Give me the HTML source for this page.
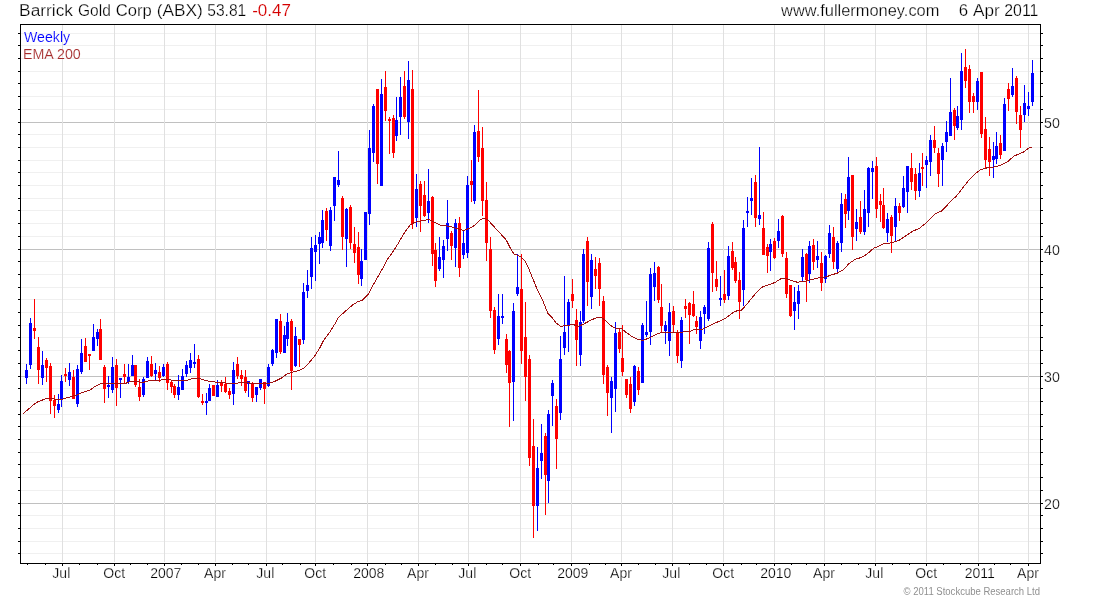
<!DOCTYPE html>
<html><head><meta charset="utf-8"><title>Barrick Gold Corp (ABX)</title>
<style>html,body{margin:0;padding:0;background:#fff}svg{display:block;will-change:transform}text{font-family:"Liberation Sans",Arial,sans-serif}</style></head><body>
<svg width="1100" height="600" viewBox="0 0 1100 600">
<rect width="1100" height="600" fill="#fff"/>
<g shape-rendering="crispEdges">
<rect x="21" y="553" width="1019" height="1" fill="#f0f0f0"/>
<rect x="21" y="541" width="1019" height="1" fill="#f0f0f0"/>
<rect x="21" y="528" width="1019" height="1" fill="#f0f0f0"/>
<rect x="21" y="515" width="1019" height="1" fill="#f0f0f0"/>
<rect x="21" y="503" width="1019" height="1" fill="#c0c0c0"/>
<rect x="21" y="490" width="1019" height="1" fill="#f0f0f0"/>
<rect x="21" y="477" width="1019" height="1" fill="#f0f0f0"/>
<rect x="21" y="464" width="1019" height="1" fill="#f0f0f0"/>
<rect x="21" y="452" width="1019" height="1" fill="#f0f0f0"/>
<rect x="21" y="439" width="1019" height="1" fill="#f0f0f0"/>
<rect x="21" y="426" width="1019" height="1" fill="#f0f0f0"/>
<rect x="21" y="414" width="1019" height="1" fill="#f0f0f0"/>
<rect x="21" y="401" width="1019" height="1" fill="#f0f0f0"/>
<rect x="21" y="388" width="1019" height="1" fill="#f0f0f0"/>
<rect x="21" y="376" width="1019" height="1" fill="#c0c0c0"/>
<rect x="21" y="363" width="1019" height="1" fill="#f0f0f0"/>
<rect x="21" y="350" width="1019" height="1" fill="#f0f0f0"/>
<rect x="21" y="337" width="1019" height="1" fill="#f0f0f0"/>
<rect x="21" y="325" width="1019" height="1" fill="#f0f0f0"/>
<rect x="21" y="312" width="1019" height="1" fill="#f0f0f0"/>
<rect x="21" y="299" width="1019" height="1" fill="#f0f0f0"/>
<rect x="21" y="287" width="1019" height="1" fill="#f0f0f0"/>
<rect x="21" y="274" width="1019" height="1" fill="#f0f0f0"/>
<rect x="21" y="261" width="1019" height="1" fill="#f0f0f0"/>
<rect x="21" y="249" width="1019" height="1" fill="#c0c0c0"/>
<rect x="21" y="236" width="1019" height="1" fill="#f0f0f0"/>
<rect x="21" y="223" width="1019" height="1" fill="#f0f0f0"/>
<rect x="21" y="210" width="1019" height="1" fill="#f0f0f0"/>
<rect x="21" y="198" width="1019" height="1" fill="#f0f0f0"/>
<rect x="21" y="185" width="1019" height="1" fill="#f0f0f0"/>
<rect x="21" y="172" width="1019" height="1" fill="#f0f0f0"/>
<rect x="21" y="160" width="1019" height="1" fill="#f0f0f0"/>
<rect x="21" y="147" width="1019" height="1" fill="#f0f0f0"/>
<rect x="21" y="134" width="1019" height="1" fill="#f0f0f0"/>
<rect x="21" y="122" width="1019" height="1" fill="#c0c0c0"/>
<rect x="21" y="109" width="1019" height="1" fill="#f0f0f0"/>
<rect x="21" y="96" width="1019" height="1" fill="#f0f0f0"/>
<rect x="21" y="83" width="1019" height="1" fill="#f0f0f0"/>
<rect x="21" y="71" width="1019" height="1" fill="#f0f0f0"/>
<rect x="21" y="58" width="1019" height="1" fill="#f0f0f0"/>
<rect x="21" y="45" width="1019" height="1" fill="#f0f0f0"/>
<rect x="21" y="33" width="1019" height="1" fill="#f0f0f0"/>
<rect x="62" y="25" width="1" height="537" fill="#e0e0e0"/>
<rect x="114" y="25" width="1" height="537" fill="#e0e0e0"/>
<rect x="164" y="25" width="1" height="537" fill="#e0e0e0"/>
<rect x="215" y="25" width="1" height="537" fill="#e0e0e0"/>
<rect x="266" y="25" width="1" height="537" fill="#e0e0e0"/>
<rect x="315" y="25" width="1" height="537" fill="#e0e0e0"/>
<rect x="367" y="25" width="1" height="537" fill="#e0e0e0"/>
<rect x="418" y="25" width="1" height="537" fill="#e0e0e0"/>
<rect x="468" y="25" width="1" height="537" fill="#e0e0e0"/>
<rect x="520" y="25" width="1" height="537" fill="#e0e0e0"/>
<rect x="571" y="25" width="1" height="537" fill="#e0e0e0"/>
<rect x="621" y="25" width="1" height="537" fill="#e0e0e0"/>
<rect x="672" y="25" width="1" height="537" fill="#e0e0e0"/>
<rect x="723" y="25" width="1" height="537" fill="#e0e0e0"/>
<rect x="774" y="25" width="1" height="537" fill="#e0e0e0"/>
<rect x="824" y="25" width="1" height="537" fill="#e0e0e0"/>
<rect x="875" y="25" width="1" height="537" fill="#e0e0e0"/>
<rect x="926" y="25" width="1" height="537" fill="#e0e0e0"/>
<rect x="978" y="25" width="1" height="537" fill="#e0e0e0"/>
<rect x="1028" y="25" width="1" height="537" fill="#e0e0e0"/>
</g>
<g shape-rendering="crispEdges">
<path fill="#0000ff" d="M26 364h1v20h-1zM25 370h3v8h-3z"/>
<path fill="#0000ff" d="M30 318h1v51h-1zM29 323h3v42h-3z"/>
<path fill="#ff0000" d="M34 299h1v40h-1zM33 328h3v3h-3z"/>
<path fill="#ff0000" d="M38 337h1v47h-1zM37 347h3v23h-3z"/>
<path fill="#0000ff" d="M42 351h1v34h-1zM41 365h3v13h-3z"/>
<path fill="#ff0000" d="M46 358h1v24h-1zM45 360h3v8h-3z"/>
<path fill="#ff0000" d="M50 363h1v51h-1zM49 366h3v35h-3z"/>
<path fill="#ff0000" d="M54 395h1v23h-1zM53 400h3v6h-3z"/>
<path fill="#0000ff" d="M58 394h1v19h-1zM57 404h3v6h-3z"/>
<path fill="#0000ff" d="M61 375h1v32h-1zM60 381h3v19h-3z"/>
<path fill="#ff0000" d="M65 368h1v14h-1zM64 374h3v2h-3z"/>
<path fill="#0000ff" d="M69 363h1v23h-1zM68 372h3v8h-3z"/>
<path fill="#ff0000" d="M73 370h1v29h-1zM72 377h3v22h-3z"/>
<path fill="#0000ff" d="M77 365h1v42h-1zM76 369h3v35h-3z"/>
<path fill="#0000ff" d="M81 339h1v35h-1zM80 353h3v19h-3z"/>
<path fill="#ff0000" d="M85 338h1v24h-1zM84 346h3v16h-3z"/>
<path fill="#ff0000" d="M89 354h1v16h-1zM88 354h3v2h-3z"/>
<path fill="#0000ff" d="M93 324h1v27h-1zM92 337h3v14h-3z"/>
<path fill="#0000ff" d="M97 329h1v17h-1zM96 332h3v7h-3z"/>
<path fill="#ff0000" d="M100 319h1v41h-1zM99 329h3v31h-3z"/>
<path fill="#ff0000" d="M104 365h1v38h-1zM103 367h3v22h-3z"/>
<path fill="#0000ff" d="M108 376h1v22h-1zM107 385h3v2h-3z"/>
<path fill="#0000ff" d="M112 357h1v36h-1zM111 367h3v23h-3z"/>
<path fill="#ff0000" d="M116 359h1v47h-1zM115 365h3v23h-3z"/>
<path fill="#0000ff" d="M120 378h1v20h-1zM119 378h3v2h-3z"/>
<path fill="#ff0000" d="M124 364h1v19h-1zM123 374h3v3h-3z"/>
<path fill="#0000ff" d="M128 364h1v20h-1zM127 377h3v5h-3z"/>
<path fill="#0000ff" d="M132 355h1v21h-1zM131 365h3v11h-3z"/>
<path fill="#ff0000" d="M135 365h1v22h-1zM134 365h3v20h-3z"/>
<path fill="#ff0000" d="M139 379h1v22h-1zM138 387h3v10h-3z"/>
<path fill="#0000ff" d="M143 377h1v20h-1zM142 379h3v16h-3z"/>
<path fill="#0000ff" d="M147 357h1v21h-1zM146 361h3v17h-3z"/>
<path fill="#ff0000" d="M151 356h1v21h-1zM150 364h3v12h-3z"/>
<path fill="#0000ff" d="M155 363h1v17h-1zM154 370h3v4h-3z"/>
<path fill="#ff0000" d="M159 366h1v16h-1zM158 372h3v6h-3z"/>
<path fill="#0000ff" d="M163 364h1v13h-1zM162 367h3v9h-3z"/>
<path fill="#ff0000" d="M167 362h1v28h-1zM166 364h3v19h-3z"/>
<path fill="#ff0000" d="M171 380h1v13h-1zM170 382h3v5h-3z"/>
<path fill="#ff0000" d="M174 384h1v14h-1zM173 386h3v9h-3z"/>
<path fill="#0000ff" d="M178 375h1v25h-1zM177 387h3v8h-3z"/>
<path fill="#0000ff" d="M182 369h1v21h-1zM181 376h3v14h-3z"/>
<path fill="#0000ff" d="M186 361h1v16h-1zM185 365h3v9h-3z"/>
<path fill="#0000ff" d="M190 353h1v20h-1zM189 360h3v8h-3z"/>
<path fill="#0000ff" d="M194 344h1v24h-1zM193 362h3v2h-3z"/>
<path fill="#ff0000" d="M198 355h1v43h-1zM197 359h3v38h-3z"/>
<path fill="#ff0000" d="M202 394h1v11h-1zM201 401h3v2h-3z"/>
<path fill="#0000ff" d="M206 393h1v22h-1zM205 401h3v2h-3z"/>
<path fill="#0000ff" d="M209 384h1v17h-1zM208 388h3v13h-3z"/>
<path fill="#ff0000" d="M213 385h1v11h-1zM212 385h3v11h-3z"/>
<path fill="#0000ff" d="M217 380h1v17h-1zM216 385h3v12h-3z"/>
<path fill="#ff0000" d="M221 380h1v12h-1zM220 383h3v3h-3z"/>
<path fill="#ff0000" d="M225 377h1v16h-1zM224 384h3v8h-3z"/>
<path fill="#ff0000" d="M229 388h1v11h-1zM228 391h3v4h-3z"/>
<path fill="#0000ff" d="M233 362h1v43h-1zM232 370h3v24h-3z"/>
<path fill="#ff0000" d="M237 357h1v22h-1zM236 364h3v12h-3z"/>
<path fill="#ff0000" d="M241 370h1v16h-1zM240 375h3v4h-3z"/>
<path fill="#ff0000" d="M245 370h1v23h-1zM244 377h3v14h-3z"/>
<path fill="#0000ff" d="M248 381h1v16h-1zM247 381h3v3h-3z"/>
<path fill="#ff0000" d="M252 382h1v20h-1zM251 383h3v15h-3z"/>
<path fill="#0000ff" d="M256 387h1v15h-1zM255 387h3v8h-3z"/>
<path fill="#0000ff" d="M260 379h1v11h-1zM259 379h3v9h-3z"/>
<path fill="#ff0000" d="M264 382h1v22h-1zM263 382h3v7h-3z"/>
<path fill="#0000ff" d="M268 364h1v23h-1zM267 367h3v19h-3z"/>
<path fill="#0000ff" d="M272 349h1v17h-1zM271 350h3v14h-3z"/>
<path fill="#0000ff" d="M276 319h1v39h-1zM275 319h3v34h-3z"/>
<path fill="#ff0000" d="M280 314h1v40h-1zM279 321h3v31h-3z"/>
<path fill="#0000ff" d="M284 326h1v27h-1zM283 335h3v18h-3z"/>
<path fill="#0000ff" d="M287 313h1v33h-1zM286 322h3v17h-3z"/>
<path fill="#ff0000" d="M291 319h1v71h-1zM290 321h3v50h-3z"/>
<path fill="#0000ff" d="M295 327h1v40h-1zM294 336h3v30h-3z"/>
<path fill="#ff0000" d="M299 339h1v28h-1zM298 339h3v6h-3z"/>
<path fill="#0000ff" d="M303 283h1v61h-1zM302 292h3v48h-3z"/>
<path fill="#0000ff" d="M307 270h1v28h-1zM306 285h3v6h-3z"/>
<path fill="#0000ff" d="M311 237h1v52h-1zM310 248h3v29h-3z"/>
<path fill="#0000ff" d="M315 235h1v46h-1zM314 245h3v7h-3z"/>
<path fill="#0000ff" d="M319 232h1v32h-1zM318 237h3v7h-3z"/>
<path fill="#0000ff" d="M322 210h1v38h-1zM321 220h3v23h-3z"/>
<path fill="#ff0000" d="M326 208h1v33h-1zM325 211h3v19h-3z"/>
<path fill="#0000ff" d="M330 207h1v44h-1zM329 210h3v36h-3z"/>
<path fill="#0000ff" d="M334 177h1v44h-1zM333 177h3v29h-3z"/>
<path fill="#0000ff" d="M338 151h1v36h-1zM337 180h3v5h-3z"/>
<path fill="#ff0000" d="M342 196h1v54h-1zM341 198h3v39h-3z"/>
<path fill="#0000ff" d="M346 208h1v59h-1zM345 209h3v30h-3z"/>
<path fill="#ff0000" d="M350 205h1v44h-1zM349 207h3v36h-3z"/>
<path fill="#ff0000" d="M354 227h1v36h-1zM353 244h3v9h-3z"/>
<path fill="#ff0000" d="M358 232h1v52h-1zM357 247h3v28h-3z"/>
<path fill="#0000ff" d="M361 249h1v37h-1zM360 261h3v18h-3z"/>
<path fill="#0000ff" d="M365 212h1v48h-1zM364 212h3v48h-3z"/>
<path fill="#0000ff" d="M369 130h1v95h-1zM368 148h3v66h-3z"/>
<path fill="#0000ff" d="M373 104h1v58h-1zM372 106h3v47h-3z"/>
<path fill="#ff0000" d="M377 89h1v95h-1zM376 89h3v75h-3z"/>
<path fill="#0000ff" d="M381 79h1v107h-1zM380 94h3v92h-3z"/>
<path fill="#ff0000" d="M385 71h1v50h-1zM384 87h3v24h-3z"/>
<path fill="#ff0000" d="M389 117h1v37h-1zM388 119h3v2h-3z"/>
<path fill="#ff0000" d="M393 115h1v43h-1zM392 118h3v35h-3z"/>
<path fill="#0000ff" d="M396 97h1v44h-1zM395 120h3v16h-3z"/>
<path fill="#0000ff" d="M400 77h1v58h-1zM399 97h3v20h-3z"/>
<path fill="#ff0000" d="M404 71h1v48h-1zM403 86h3v31h-3z"/>
<path fill="#0000ff" d="M408 61h1v78h-1zM407 80h3v42h-3z"/>
<path fill="#ff0000" d="M412 70h1v159h-1zM411 89h3v135h-3z"/>
<path fill="#0000ff" d="M416 174h1v53h-1zM415 189h3v29h-3z"/>
<path fill="#ff0000" d="M420 181h1v51h-1zM419 184h3v22h-3z"/>
<path fill="#ff0000" d="M424 181h1v36h-1zM423 195h3v21h-3z"/>
<path fill="#0000ff" d="M428 169h1v54h-1zM427 201h3v12h-3z"/>
<path fill="#ff0000" d="M432 196h1v70h-1zM431 197h3v57h-3z"/>
<path fill="#ff0000" d="M435 243h1v44h-1zM434 250h3v31h-3z"/>
<path fill="#0000ff" d="M439 237h1v34h-1zM438 257h3v12h-3z"/>
<path fill="#0000ff" d="M443 240h1v38h-1zM442 246h3v14h-3z"/>
<path fill="#0000ff" d="M447 200h1v51h-1zM446 223h3v16h-3z"/>
<path fill="#ff0000" d="M451 231h1v29h-1zM450 233h3v13h-3z"/>
<path fill="#0000ff" d="M455 219h1v48h-1zM454 223h3v25h-3z"/>
<path fill="#ff0000" d="M459 217h1v60h-1zM458 223h3v45h-3z"/>
<path fill="#0000ff" d="M463 231h1v28h-1zM462 243h3v12h-3z"/>
<path fill="#0000ff" d="M467 176h1v82h-1zM466 185h3v68h-3z"/>
<path fill="#ff0000" d="M471 160h1v42h-1zM470 181h3v4h-3z"/>
<path fill="#0000ff" d="M474 125h1v79h-1zM473 132h3v69h-3z"/>
<path fill="#ff0000" d="M478 90h1v72h-1zM477 131h3v26h-3z"/>
<path fill="#ff0000" d="M482 127h1v89h-1zM481 148h3v53h-3z"/>
<path fill="#ff0000" d="M486 182h1v79h-1zM485 200h3v43h-3z"/>
<path fill="#ff0000" d="M490 237h1v81h-1zM489 249h3v62h-3z"/>
<path fill="#ff0000" d="M494 307h1v47h-1zM493 310h3v40h-3z"/>
<path fill="#0000ff" d="M498 294h1v51h-1zM497 316h3v23h-3z"/>
<path fill="#0000ff" d="M502 294h1v30h-1zM501 316h3v2h-3z"/>
<path fill="#ff0000" d="M506 334h1v39h-1zM505 339h3v26h-3z"/>
<path fill="#ff0000" d="M509 350h1v77h-1zM508 351h3v32h-3z"/>
<path fill="#0000ff" d="M513 303h1v118h-1zM512 311h3v71h-3z"/>
<path fill="#0000ff" d="M517 254h1v42h-1zM516 287h3v7h-3z"/>
<path fill="#ff0000" d="M521 254h1v110h-1zM520 289h3v62h-3z"/>
<path fill="#ff0000" d="M525 302h1v99h-1zM524 337h3v40h-3z"/>
<path fill="#ff0000" d="M529 355h1v111h-1zM528 359h3v99h-3z"/>
<path fill="#ff0000" d="M533 419h1v119h-1zM532 446h3v60h-3z"/>
<path fill="#0000ff" d="M537 447h1v84h-1zM536 468h3v38h-3z"/>
<path fill="#0000ff" d="M541 424h1v55h-1zM540 453h3v8h-3z"/>
<path fill="#ff0000" d="M545 433h1v82h-1zM544 436h3v39h-3z"/>
<path fill="#0000ff" d="M548 410h1v93h-1zM547 414h3v67h-3z"/>
<path fill="#0000ff" d="M552 380h1v46h-1zM551 383h3v13h-3z"/>
<path fill="#ff0000" d="M556 399h1v70h-1zM555 406h3v33h-3z"/>
<path fill="#0000ff" d="M560 336h1v84h-1zM559 359h3v54h-3z"/>
<path fill="#0000ff" d="M564 276h1v79h-1zM563 332h3v16h-3z"/>
<path fill="#0000ff" d="M568 299h1v53h-1zM567 302h3v23h-3z"/>
<path fill="#ff0000" d="M572 279h1v29h-1zM571 294h3v7h-3z"/>
<path fill="#ff0000" d="M576 309h1v57h-1zM575 320h3v20h-3z"/>
<path fill="#0000ff" d="M580 311h1v55h-1zM579 322h3v33h-3z"/>
<path fill="#0000ff" d="M583 249h1v74h-1zM582 254h3v67h-3z"/>
<path fill="#ff0000" d="M587 237h1v69h-1zM586 241h3v41h-3z"/>
<path fill="#0000ff" d="M591 254h1v55h-1zM590 260h3v37h-3z"/>
<path fill="#ff0000" d="M595 257h1v32h-1zM594 269h3v7h-3z"/>
<path fill="#ff0000" d="M599 258h1v48h-1zM598 263h3v26h-3z"/>
<path fill="#ff0000" d="M603 296h1v88h-1zM602 301h3v74h-3z"/>
<path fill="#ff0000" d="M607 365h1v51h-1zM606 367h3v26h-3z"/>
<path fill="#0000ff" d="M611 377h1v56h-1zM610 381h3v17h-3z"/>
<path fill="#0000ff" d="M615 322h1v90h-1zM614 333h3v56h-3z"/>
<path fill="#ff0000" d="M619 328h1v25h-1zM618 332h3v17h-3z"/>
<path fill="#ff0000" d="M622 325h1v51h-1zM621 358h3v14h-3z"/>
<path fill="#ff0000" d="M626 379h1v19h-1zM625 379h3v16h-3z"/>
<path fill="#ff0000" d="M630 377h1v36h-1zM629 384h3v25h-3z"/>
<path fill="#0000ff" d="M634 365h1v41h-1zM633 366h3v36h-3z"/>
<path fill="#ff0000" d="M638 367h1v28h-1zM637 371h3v19h-3z"/>
<path fill="#0000ff" d="M642 323h1v60h-1zM641 325h3v58h-3z"/>
<path fill="#0000ff" d="M646 301h1v36h-1zM645 332h3v3h-3z"/>
<path fill="#0000ff" d="M650 268h1v77h-1zM649 274h3v58h-3z"/>
<path fill="#0000ff" d="M654 262h1v39h-1zM653 273h3v14h-3z"/>
<path fill="#ff0000" d="M658 266h1v37h-1zM657 267h3v33h-3z"/>
<path fill="#ff0000" d="M661 284h1v48h-1zM660 307h3v19h-3z"/>
<path fill="#0000ff" d="M665 321h1v23h-1zM664 325h3v6h-3z"/>
<path fill="#0000ff" d="M669 303h1v53h-1zM668 312h3v29h-3z"/>
<path fill="#ff0000" d="M673 306h1v26h-1zM672 311h3v14h-3z"/>
<path fill="#ff0000" d="M677 330h1v33h-1zM676 333h3v23h-3z"/>
<path fill="#0000ff" d="M681 317h1v51h-1zM680 320h3v41h-3z"/>
<path fill="#ff0000" d="M685 299h1v19h-1zM684 306h3v3h-3z"/>
<path fill="#ff0000" d="M689 302h1v42h-1zM688 303h3v12h-3z"/>
<path fill="#ff0000" d="M693 291h1v26h-1zM692 304h3v12h-3z"/>
<path fill="#ff0000" d="M696 316h1v18h-1zM695 321h3v6h-3z"/>
<path fill="#0000ff" d="M700 311h1v38h-1zM699 317h3v24h-3z"/>
<path fill="#0000ff" d="M704 305h1v29h-1zM703 307h3v7h-3z"/>
<path fill="#0000ff" d="M708 242h1v79h-1zM707 248h3v71h-3z"/>
<path fill="#ff0000" d="M712 222h1v70h-1zM711 224h3v49h-3z"/>
<path fill="#ff0000" d="M716 261h1v30h-1zM715 279h3v8h-3z"/>
<path fill="#0000ff" d="M720 276h1v30h-1zM719 298h3v2h-3z"/>
<path fill="#ff0000" d="M724 270h1v33h-1zM723 294h3v6h-3z"/>
<path fill="#0000ff" d="M728 246h1v54h-1zM727 256h3v40h-3z"/>
<path fill="#ff0000" d="M732 242h1v28h-1zM731 251h3v17h-3z"/>
<path fill="#ff0000" d="M735 257h1v26h-1zM734 262h3v19h-3z"/>
<path fill="#ff0000" d="M739 272h1v47h-1zM738 280h3v22h-3z"/>
<path fill="#0000ff" d="M743 220h1v86h-1zM742 228h3v62h-3z"/>
<path fill="#0000ff" d="M747 197h1v30h-1zM746 211h3v2h-3z"/>
<path fill="#0000ff" d="M751 178h1v37h-1zM750 198h3v3h-3z"/>
<path fill="#ff0000" d="M755 175h1v52h-1zM754 182h3v36h-3z"/>
<path fill="#0000ff" d="M759 147h1v78h-1zM758 215h3v4h-3z"/>
<path fill="#ff0000" d="M763 212h1v43h-1zM762 228h3v27h-3z"/>
<path fill="#ff0000" d="M767 244h1v29h-1zM766 247h3v9h-3z"/>
<path fill="#0000ff" d="M770 239h1v32h-1zM769 244h3v8h-3z"/>
<path fill="#ff0000" d="M774 238h1v21h-1zM773 241h3v17h-3z"/>
<path fill="#0000ff" d="M778 219h1v29h-1zM777 231h3v10h-3z"/>
<path fill="#ff0000" d="M782 215h1v42h-1zM781 216h3v38h-3z"/>
<path fill="#ff0000" d="M786 252h1v46h-1zM785 258h3v36h-3z"/>
<path fill="#ff0000" d="M790 285h1v32h-1zM789 285h3v31h-3z"/>
<path fill="#0000ff" d="M794 287h1v43h-1zM793 302h3v9h-3z"/>
<path fill="#0000ff" d="M798 285h1v34h-1zM797 291h3v13h-3z"/>
<path fill="#0000ff" d="M802 249h1v32h-1zM801 257h3v20h-3z"/>
<path fill="#ff0000" d="M806 253h1v49h-1zM805 254h3v26h-3z"/>
<path fill="#0000ff" d="M809 241h1v42h-1zM808 246h3v28h-3z"/>
<path fill="#ff0000" d="M813 239h1v31h-1zM812 245h3v17h-3z"/>
<path fill="#0000ff" d="M817 241h1v27h-1zM816 256h3v4h-3z"/>
<path fill="#ff0000" d="M821 252h1v39h-1zM820 263h3v20h-3z"/>
<path fill="#0000ff" d="M825 255h1v28h-1zM824 256h3v23h-3z"/>
<path fill="#0000ff" d="M829 225h1v33h-1zM828 233h3v21h-3z"/>
<path fill="#ff0000" d="M833 227h1v42h-1zM832 237h3v25h-3z"/>
<path fill="#0000ff" d="M837 241h1v32h-1zM836 243h3v26h-3z"/>
<path fill="#0000ff" d="M841 193h1v59h-1zM840 204h3v39h-3z"/>
<path fill="#ff0000" d="M845 194h1v34h-1zM844 199h3v15h-3z"/>
<path fill="#0000ff" d="M848 157h1v63h-1zM847 177h3v34h-3z"/>
<path fill="#ff0000" d="M852 175h1v75h-1zM851 175h3v62h-3z"/>
<path fill="#0000ff" d="M856 209h1v32h-1zM855 222h3v7h-3z"/>
<path fill="#ff0000" d="M860 201h1v33h-1zM859 217h3v15h-3z"/>
<path fill="#0000ff" d="M864 190h1v45h-1zM863 209h3v23h-3z"/>
<path fill="#0000ff" d="M868 167h1v60h-1zM867 168h3v45h-3z"/>
<path fill="#0000ff" d="M872 161h1v38h-1zM871 168h3v4h-3z"/>
<path fill="#ff0000" d="M876 157h1v61h-1zM875 166h3v43h-3z"/>
<path fill="#ff0000" d="M880 194h1v28h-1zM879 201h3v4h-3z"/>
<path fill="#ff0000" d="M883 188h1v41h-1zM882 205h3v23h-3z"/>
<path fill="#0000ff" d="M887 213h1v29h-1zM886 219h3v14h-3z"/>
<path fill="#ff0000" d="M891 215h1v38h-1zM890 217h3v19h-3z"/>
<path fill="#0000ff" d="M895 198h1v43h-1zM894 206h3v21h-3z"/>
<path fill="#ff0000" d="M899 203h1v18h-1zM898 206h3v7h-3z"/>
<path fill="#0000ff" d="M903 176h1v32h-1zM902 188h3v19h-3z"/>
<path fill="#0000ff" d="M907 166h1v47h-1zM906 166h3v26h-3z"/>
<path fill="#ff0000" d="M911 153h1v37h-1zM910 168h3v14h-3z"/>
<path fill="#ff0000" d="M915 168h1v32h-1zM914 174h3v17h-3z"/>
<path fill="#0000ff" d="M919 163h1v34h-1zM918 173h3v18h-3z"/>
<path fill="#ff0000" d="M922 153h1v33h-1zM921 167h3v2h-3z"/>
<path fill="#0000ff" d="M926 156h1v32h-1zM925 160h3v5h-3z"/>
<path fill="#0000ff" d="M930 135h1v41h-1zM929 140h3v22h-3z"/>
<path fill="#ff0000" d="M934 126h1v27h-1zM933 140h3v8h-3z"/>
<path fill="#ff0000" d="M938 148h1v39h-1zM937 153h3v21h-3z"/>
<path fill="#0000ff" d="M942 143h1v43h-1zM941 146h3v14h-3z"/>
<path fill="#0000ff" d="M946 121h1v31h-1zM945 132h3v10h-3z"/>
<path fill="#0000ff" d="M950 78h1v58h-1zM949 112h3v24h-3z"/>
<path fill="#ff0000" d="M954 108h1v32h-1zM953 110h3v16h-3z"/>
<path fill="#0000ff" d="M957 106h1v24h-1zM956 116h3v12h-3z"/>
<path fill="#0000ff" d="M961 53h1v77h-1zM960 71h3v49h-3z"/>
<path fill="#ff0000" d="M965 49h1v39h-1zM964 67h3v14h-3z"/>
<path fill="#ff0000" d="M969 65h1v48h-1zM968 69h3v33h-3z"/>
<path fill="#ff0000" d="M973 93h1v20h-1zM972 96h3v6h-3z"/>
<path fill="#0000ff" d="M977 78h1v32h-1zM976 81h3v21h-3z"/>
<path fill="#ff0000" d="M981 72h1v66h-1zM980 72h3v62h-3z"/>
<path fill="#ff0000" d="M985 117h1v52h-1zM984 129h3v31h-3z"/>
<path fill="#ff0000" d="M989 137h1v39h-1zM988 149h3v13h-3z"/>
<path fill="#0000ff" d="M993 142h1v36h-1zM992 156h3v4h-3z"/>
<path fill="#0000ff" d="M996 132h1v32h-1zM995 146h3v13h-3z"/>
<path fill="#ff0000" d="M1000 135h1v24h-1zM999 143h3v12h-3z"/>
<path fill="#0000ff" d="M1004 98h1v53h-1zM1003 104h3v47h-3z"/>
<path fill="#ff0000" d="M1008 83h1v28h-1zM1007 89h3v10h-3z"/>
<path fill="#0000ff" d="M1012 68h1v29h-1zM1011 86h3v9h-3z"/>
<path fill="#ff0000" d="M1016 76h1v48h-1zM1015 78h3v34h-3z"/>
<path fill="#ff0000" d="M1020 106h1v42h-1zM1019 115h3v15h-3z"/>
<path fill="#0000ff" d="M1024 85h1v37h-1zM1023 103h3v12h-3z"/>
<path fill="#0000ff" d="M1028 92h1v24h-1zM1027 106h3v3h-3z"/>
<path fill="#0000ff" d="M1032 60h1v46h-1zM1031 73h3v29h-3z"/>
</g>
<polyline points="23.1,413.75 27.5,410 32.5,405.6 37.5,401.9 42.5,400 46.25,398.5 52.5,398.75 57.5,399.6 62.5,399.1 70,396.9 76.25,395.25 82.5,392.5 90,390 95,386.5 100.6,383.5 107.5,383.5 126.25,383.1 131.25,381.25 137.5,381.9 143.75,382.25 150,380.4 159.4,380.6 162.5,379.4 168.75,379.75 175,380.6 187.5,380.25 193.75,378.1 200,378.5 203.75,380 208.75,381.25 217.5,382.25 227.5,383.1 237.5,383.1 245,382.25 250,383.1 262.5,383.4 270,383.1 275,381.25 281.25,378.1 286.25,374.4 292.5,372.25 298.75,370.6 303.75,368.1 308.75,363.1 315,355.6 320,347.5 323.1,341.25 330,331.9 335,323.75 338.1,318.1 342.5,313.75 347.5,309.4 352.5,305 357.5,301.9 362.5,300 368.75,293.75 372.5,286.25 377.5,277.5 382.5,268.75 386.9,260 393.75,250.6 398.75,242.5 403.75,233.75 408.75,226.9 410,225 415,222.25 422.5,220.6 428.75,219.4 433.75,221.9 441.25,225.6 450,226.25 457.5,228.75 463.75,230.4 470,228.1 475,225 480,220 483.75,218.4 487.5,219.4 492.5,225 500,233.1 506.25,240 510,247.5 513.75,253.75 520,256.25 525,261.25 528.75,268.75 537.5,290 542.5,300 548.1,313.75 552.5,318.1 556.25,323.1 560.6,326.25 567.5,325.6 572.5,324.4 578.75,326.25 583.75,324 590,320.6 596.25,317.75 600.6,317.25 605,320 610,325 615,328.1 621.25,328.5 626.25,332.5 632.5,336.9 638.75,339.75 643.75,340.25 650,337.5 656.25,334.4 661.25,332.5 670,332.25 681.25,332.25 690,331.25 695,329.4 702.5,329.4 708.75,326.25 716.25,322.5 723.75,319.4 730,315 735,311.25 741.25,310.25 746.25,305 751.25,298.75 757.5,291.25 762.5,286.9 768.75,284.75 775,282.5 781.25,278.5 786.25,278.5 791.25,280.6 797.5,282.25 805,281.25 812.5,279.4 820,277.5 826.25,276.9 831.25,275 837.5,273.1 843.75,269.4 848.75,263.75 855,259.4 861.25,257.5 867.5,253.75 873.75,248.1 878.75,246.25 883.75,243.5 890,243.1 898.75,240.6 905,236.25 912.5,231.25 918.75,228.75 925,223.75 930,218.75 935,213.75 941.25,211.25 946.25,206.25 951.25,200.6 956.25,196.25 958.75,193.1 965,185 970,178.75 977.5,171.9 981.25,169.4 987.5,167.75 995,166.9 1002.5,164.4 1007.5,161.9 1013.75,156.25 1018.75,154 1023.75,151.9 1028.75,148.1 1031.9,146.9" fill="none" stroke="#a01010" stroke-width="1" shape-rendering="crispEdges"/>
<g shape-rendering="crispEdges" fill="#000">
<rect x="20" y="24" width="1021" height="1"/>
<rect x="20" y="563" width="1021" height="1"/>
<rect x="20" y="24" width="1" height="540"/>
<rect x="1040" y="24" width="1" height="540"/>
<rect x="18" y="553" width="2" height="1"/>
<rect x="1041" y="553" width="2" height="1"/>
<rect x="18" y="541" width="2" height="1"/>
<rect x="1041" y="541" width="2" height="1"/>
<rect x="18" y="528" width="2" height="1"/>
<rect x="1041" y="528" width="2" height="1"/>
<rect x="18" y="515" width="2" height="1"/>
<rect x="1041" y="515" width="2" height="1"/>
<rect x="18" y="503" width="2" height="1"/>
<rect x="1041" y="503" width="2" height="1"/>
<rect x="18" y="490" width="2" height="1"/>
<rect x="1041" y="490" width="2" height="1"/>
<rect x="18" y="477" width="2" height="1"/>
<rect x="1041" y="477" width="2" height="1"/>
<rect x="18" y="464" width="2" height="1"/>
<rect x="1041" y="464" width="2" height="1"/>
<rect x="18" y="452" width="2" height="1"/>
<rect x="1041" y="452" width="2" height="1"/>
<rect x="18" y="439" width="2" height="1"/>
<rect x="1041" y="439" width="2" height="1"/>
<rect x="18" y="426" width="2" height="1"/>
<rect x="1041" y="426" width="2" height="1"/>
<rect x="18" y="414" width="2" height="1"/>
<rect x="1041" y="414" width="2" height="1"/>
<rect x="18" y="401" width="2" height="1"/>
<rect x="1041" y="401" width="2" height="1"/>
<rect x="18" y="388" width="2" height="1"/>
<rect x="1041" y="388" width="2" height="1"/>
<rect x="18" y="376" width="2" height="1"/>
<rect x="1041" y="376" width="2" height="1"/>
<rect x="18" y="363" width="2" height="1"/>
<rect x="1041" y="363" width="2" height="1"/>
<rect x="18" y="350" width="2" height="1"/>
<rect x="1041" y="350" width="2" height="1"/>
<rect x="18" y="337" width="2" height="1"/>
<rect x="1041" y="337" width="2" height="1"/>
<rect x="18" y="325" width="2" height="1"/>
<rect x="1041" y="325" width="2" height="1"/>
<rect x="18" y="312" width="2" height="1"/>
<rect x="1041" y="312" width="2" height="1"/>
<rect x="18" y="299" width="2" height="1"/>
<rect x="1041" y="299" width="2" height="1"/>
<rect x="18" y="287" width="2" height="1"/>
<rect x="1041" y="287" width="2" height="1"/>
<rect x="18" y="274" width="2" height="1"/>
<rect x="1041" y="274" width="2" height="1"/>
<rect x="18" y="261" width="2" height="1"/>
<rect x="1041" y="261" width="2" height="1"/>
<rect x="18" y="249" width="2" height="1"/>
<rect x="1041" y="249" width="2" height="1"/>
<rect x="18" y="236" width="2" height="1"/>
<rect x="1041" y="236" width="2" height="1"/>
<rect x="18" y="223" width="2" height="1"/>
<rect x="1041" y="223" width="2" height="1"/>
<rect x="18" y="210" width="2" height="1"/>
<rect x="1041" y="210" width="2" height="1"/>
<rect x="18" y="198" width="2" height="1"/>
<rect x="1041" y="198" width="2" height="1"/>
<rect x="18" y="185" width="2" height="1"/>
<rect x="1041" y="185" width="2" height="1"/>
<rect x="18" y="172" width="2" height="1"/>
<rect x="1041" y="172" width="2" height="1"/>
<rect x="18" y="160" width="2" height="1"/>
<rect x="1041" y="160" width="2" height="1"/>
<rect x="18" y="147" width="2" height="1"/>
<rect x="1041" y="147" width="2" height="1"/>
<rect x="18" y="134" width="2" height="1"/>
<rect x="1041" y="134" width="2" height="1"/>
<rect x="18" y="122" width="2" height="1"/>
<rect x="1041" y="122" width="2" height="1"/>
<rect x="18" y="109" width="2" height="1"/>
<rect x="1041" y="109" width="2" height="1"/>
<rect x="18" y="96" width="2" height="1"/>
<rect x="1041" y="96" width="2" height="1"/>
<rect x="18" y="83" width="2" height="1"/>
<rect x="1041" y="83" width="2" height="1"/>
<rect x="18" y="71" width="2" height="1"/>
<rect x="1041" y="71" width="2" height="1"/>
<rect x="18" y="58" width="2" height="1"/>
<rect x="1041" y="58" width="2" height="1"/>
<rect x="18" y="45" width="2" height="1"/>
<rect x="1041" y="45" width="2" height="1"/>
<rect x="18" y="33" width="2" height="1"/>
<rect x="1041" y="33" width="2" height="1"/>
<rect x="27" y="564" width="1" height="1"/>
<rect x="45" y="564" width="1" height="1"/>
<rect x="62" y="564" width="1" height="2"/>
<rect x="79" y="564" width="1" height="1"/>
<rect x="97" y="564" width="1" height="1"/>
<rect x="114" y="564" width="1" height="2"/>
<rect x="130" y="564" width="1" height="1"/>
<rect x="147" y="564" width="1" height="1"/>
<rect x="164" y="564" width="1" height="2"/>
<rect x="181" y="564" width="1" height="1"/>
<rect x="198" y="564" width="1" height="1"/>
<rect x="215" y="564" width="1" height="2"/>
<rect x="232" y="564" width="1" height="1"/>
<rect x="248" y="564" width="1" height="1"/>
<rect x="266" y="564" width="1" height="2"/>
<rect x="282" y="564" width="1" height="1"/>
<rect x="300" y="564" width="1" height="1"/>
<rect x="315" y="564" width="1" height="2"/>
<rect x="333" y="564" width="1" height="1"/>
<rect x="351" y="564" width="1" height="1"/>
<rect x="367" y="564" width="1" height="2"/>
<rect x="385" y="564" width="1" height="1"/>
<rect x="401" y="564" width="1" height="1"/>
<rect x="418" y="564" width="1" height="2"/>
<rect x="435" y="564" width="1" height="1"/>
<rect x="452" y="564" width="1" height="1"/>
<rect x="468" y="564" width="1" height="2"/>
<rect x="486" y="564" width="1" height="1"/>
<rect x="502" y="564" width="1" height="1"/>
<rect x="520" y="564" width="1" height="2"/>
<rect x="538" y="564" width="1" height="1"/>
<rect x="553" y="564" width="1" height="1"/>
<rect x="571" y="564" width="1" height="2"/>
<rect x="589" y="564" width="1" height="1"/>
<rect x="605" y="564" width="1" height="1"/>
<rect x="621" y="564" width="1" height="2"/>
<rect x="638" y="564" width="1" height="1"/>
<rect x="655" y="564" width="1" height="1"/>
<rect x="672" y="564" width="1" height="2"/>
<rect x="689" y="564" width="1" height="1"/>
<rect x="706" y="564" width="1" height="1"/>
<rect x="723" y="564" width="1" height="2"/>
<rect x="741" y="564" width="1" height="1"/>
<rect x="756" y="564" width="1" height="1"/>
<rect x="774" y="564" width="1" height="2"/>
<rect x="791" y="564" width="1" height="1"/>
<rect x="806" y="564" width="1" height="1"/>
<rect x="824" y="564" width="1" height="2"/>
<rect x="841" y="564" width="1" height="1"/>
<rect x="858" y="564" width="1" height="1"/>
<rect x="875" y="564" width="1" height="2"/>
<rect x="892" y="564" width="1" height="1"/>
<rect x="909" y="564" width="1" height="1"/>
<rect x="926" y="564" width="1" height="2"/>
<rect x="943" y="564" width="1" height="1"/>
<rect x="960" y="564" width="1" height="1"/>
<rect x="978" y="564" width="1" height="2"/>
<rect x="994" y="564" width="1" height="1"/>
<rect x="1010" y="564" width="1" height="1"/>
<rect x="1028" y="564" width="1" height="2"/>
</g>
<g stroke="#fff" stroke-width="0.25">
<g font-size="14" fill="#000" text-anchor="middle">
<text x="61.3" y="578">Jul</text>
<text x="114.2" y="578">Oct</text>
<text x="165.8" y="578">2007</text>
<text x="215.0" y="578">Apr</text>
<text x="265.3" y="578">Jul</text>
<text x="315.2" y="578">Oct</text>
<text x="368.8" y="578">2008</text>
<text x="418.0" y="578">Apr</text>
<text x="467.3" y="578">Jul</text>
<text x="520.2" y="578">Oct</text>
<text x="572.8" y="578">2009</text>
<text x="621.0" y="578">Apr</text>
<text x="671.3" y="578">Jul</text>
<text x="723.2" y="578">Oct</text>
<text x="775.8" y="578">2010</text>
<text x="824.0" y="578">Apr</text>
<text x="874.3" y="578">Jul</text>
<text x="926.2" y="578">Oct</text>
<text x="979.8" y="578">2011</text>
<text x="1028.0" y="578">Apr</text>
</g>
<g font-size="14" fill="#000">
<text x="1044" y="509" textLength="15.85" lengthAdjust="spacingAndGlyphs">20</text>
<text x="1044" y="382" textLength="15.85" lengthAdjust="spacingAndGlyphs">30</text>
<text x="1044" y="255" textLength="15.85" lengthAdjust="spacingAndGlyphs">40</text>
<text x="1044" y="128" textLength="15.85" lengthAdjust="spacingAndGlyphs">50</text>
</g>
<text x="19.1" y="16" font-size="16" fill="#000" textLength="53.89" lengthAdjust="spacingAndGlyphs">Barrick</text>
<text x="78.07" y="16" font-size="16" fill="#000" textLength="32.74" lengthAdjust="spacingAndGlyphs">Gold</text>
<text x="115.82" y="16" font-size="16" fill="#000" textLength="35.99" lengthAdjust="spacingAndGlyphs">Corp</text>
<text x="156.82" y="16" font-size="16" fill="#000" textLength="45.97" lengthAdjust="spacingAndGlyphs">(ABX)</text>
<text x="207.22" y="16" font-size="16" fill="#000" textLength="39.01" lengthAdjust="spacingAndGlyphs">53.81</text>
<text stroke-width="0.15" x="252.15" y="16" font-size="16" fill="#d40000" textLength="38.81" lengthAdjust="spacingAndGlyphs">-0.47</text>
<text x="781.1" y="16" font-size="16" fill="#000" textLength="158.3" lengthAdjust="spacingAndGlyphs">www.fullermoney.com</text>
<text x="958.81" y="16" font-size="16" fill="#000" textLength="9.38" lengthAdjust="spacingAndGlyphs">6</text>
<text x="973.0" y="16" font-size="16" fill="#000" textLength="26.67" lengthAdjust="spacingAndGlyphs">Apr</text>
<text x="1004.26" y="16" font-size="16" fill="#000" textLength="34.09" lengthAdjust="spacingAndGlyphs">2011</text>
<text stroke-width="0.15" x="24.0" y="42" font-size="14" fill="#0000ff" textLength="46.16" lengthAdjust="spacingAndGlyphs">Weekly</text>
<text stroke-width="0.15" x="22.98" y="59" font-size="14" fill="#a52a2a" textLength="57.81" lengthAdjust="spacingAndGlyphs">EMA 200</text>
<text stroke="none" x="903.6" y="595" font-size="10" fill="#909090" textLength="136.4" lengthAdjust="spacingAndGlyphs">© 2011 Stockcube Research Ltd</text>
</g>
</svg></body></html>
